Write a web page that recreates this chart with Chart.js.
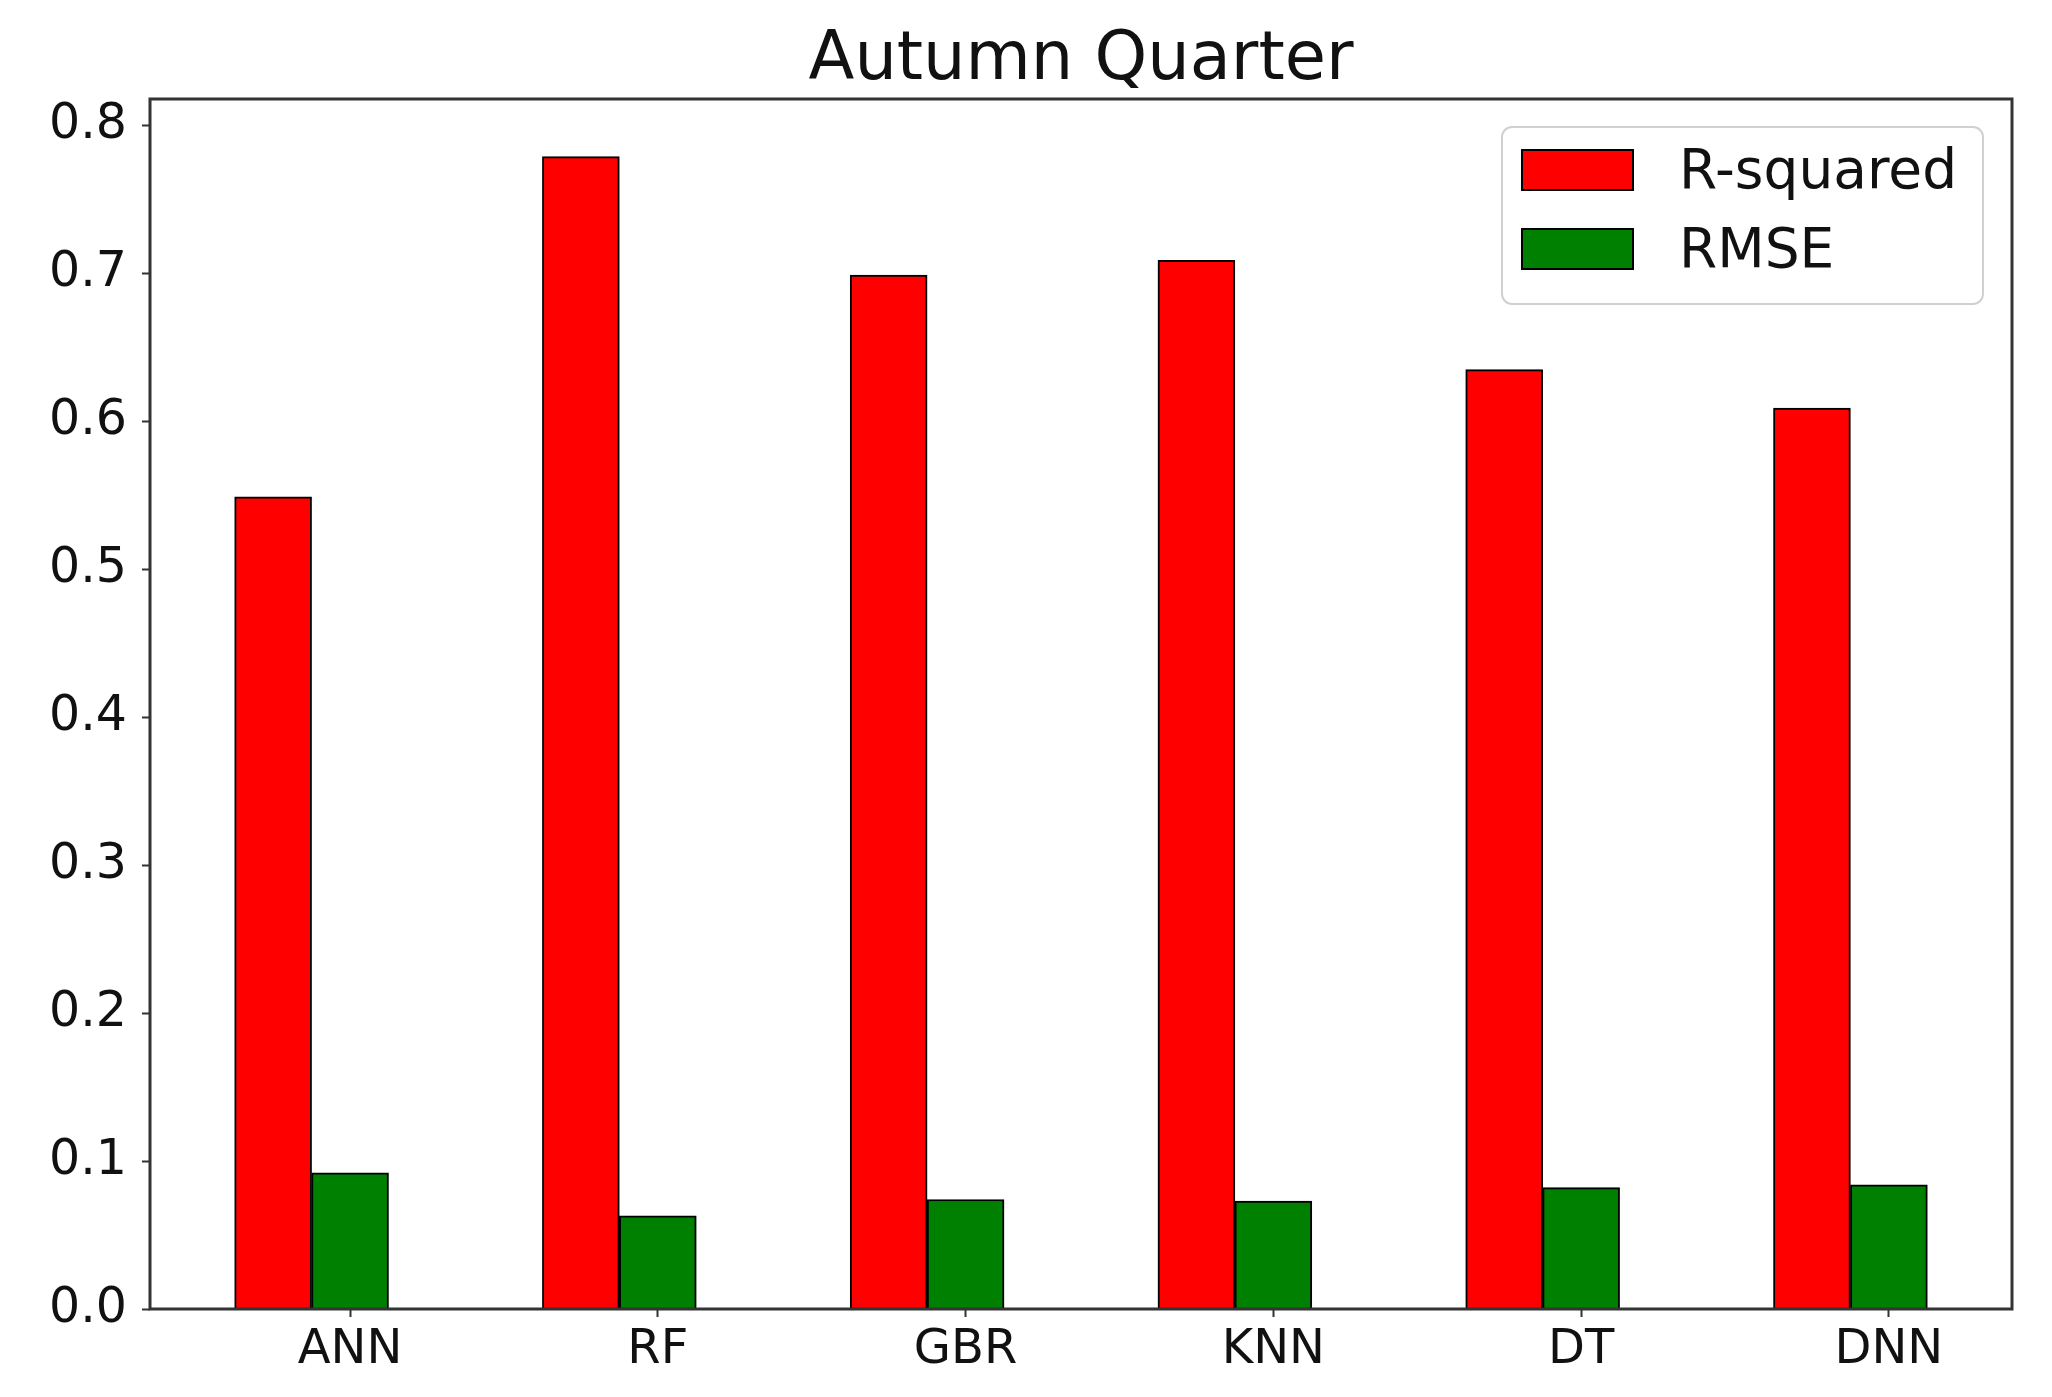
<!DOCTYPE html>
<html>
<head>
<meta charset="utf-8">
<script src="https://cdn.jsdelivr.net/npm/chart.js@4.4.1/dist/chart.umd.min.js"></script>
<style>
  html, body { margin: 0; padding: 0; background: #fff; }
  #wrap { width: 2052px; height: 1397px; position: relative; }
</style>
</head>
<body>
<div id="wrap"><canvas id="autumnChart"></canvas></div>
<script>
// Data
const categories = ['ANN', 'RF', 'GBR', 'KNN', 'DT', 'DNN'];
const rSquared = [0.549, 0.779, 0.699, 0.709, 0.635, 0.609];
const rmse = [0.092, 0.063, 0.074, 0.073, 0.082, 0.084];
const yTicks = [0.0, 0.1, 0.2, 0.3, 0.4, 0.5, 0.6, 0.7, 0.8];

const barWidth = 0.25; // same units as the category spacing
const fontFamily = '"DejaVu Sans", "Liberation Sans", sans-serif';
const colors = {
    red: '#ff0000',
    green: '#008000',
    edge: '#000000',
    spine: '#333333',
    text: '#111111'
};

// Frame around the plot area, drawn over the bars like matplotlib spines
const spinesPlugin = {
    id: 'spines',
    afterDatasetsDraw(chart) {
        const { ctx, chartArea: a } = chart;
        ctx.save();
        ctx.strokeStyle = colors.spine;
        ctx.lineWidth = 3;
        ctx.strokeRect(a.left, a.top, a.right - a.left, a.bottom - a.top);
        ctx.restore();
    }
};

// Legend box inside the upper right corner of the plot
const innerLegendPlugin = {
    id: 'innerLegend',
    afterDraw(chart) {
        const { ctx, chartArea: a } = chart;
        const boxW = 481, boxH = 177;
        const x = a.right - 29 - boxW;
        const y = a.top + 28;
        ctx.save();
        ctx.fillStyle = 'rgba(255,255,255,0.85)';
        ctx.strokeStyle = '#d0d0d0';
        ctx.lineWidth = 2;
        ctx.beginPath();
        ctx.roundRect(x, y, boxW, boxH, 10);
        ctx.fill();
        ctx.stroke();

        ctx.font = '55px ' + fontFamily;
        ctx.textBaseline = 'middle';
        ctx.textAlign = 'left';
        chart.data.datasets.forEach(function(ds, i) {
            const rowY = y + 43 + i * 79;
            ctx.fillStyle = ds.backgroundColor;
            ctx.fillRect(x + 20, rowY - 20, 111, 40);
            ctx.strokeStyle = colors.edge;
            ctx.lineWidth = 2;
            ctx.strokeRect(x + 20, rowY - 20, 111, 40);
            ctx.fillStyle = colors.text;
            ctx.fillText(ds.label, x + 177, rowY + 4);
        });
        ctx.restore();
    }
};

const ctx = document.getElementById('autumnChart');
new Chart(ctx, {
    type: 'bar',
    data: {
        datasets: [
            {
                label: 'R-squared',
                data: categories.map((c, i) => ({ x: i, y: rSquared[i] })),
                backgroundColor: colors.red,
                borderColor: colors.edge,
                borderWidth: 2,
                grouped: false,
                barPercentage: 1,
                categoryPercentage: 1
            },
            {
                label: 'RMSE',
                data: categories.map((c, i) => ({ x: i + barWidth, y: rmse[i] })),
                backgroundColor: colors.green,
                borderColor: colors.edge,
                borderWidth: 2,
                grouped: false,
                barPercentage: 1,
                categoryPercentage: 1
            }
        ]
    },
    options: {
        responsive: true,
        maintainAspectRatio: false,
        animation: false,
        layout: {
            padding: { left: 0, right: 40, top: 0, bottom: 0 }
        },
        plugins: {
            legend: { display: false },
            tooltip: { enabled: false },
            title: {
                display: true,
                fullSize: false,
                text: 'Autumn Quarter',
                color: colors.text,
                font: { family: fontFamily, size: 67, weight: 'normal', lineHeight: 1 },
                padding: { top: 28, bottom: 4 }
            }
        },
        scales: {
            x: {
                type: 'linear',
                min: -0.4,
                max: 5.65,
                offset: false,
                afterBuildTicks: function(scale) {
                    scale.ticks = categories.map((c, i) => ({ value: i + barWidth }));
                },
                afterFit: function(scale) {
                    scale.height = 88;
                },
                grid: {
                    offset: false,
                    drawOnChartArea: false,
                    drawTicks: true,
                    tickLength: 8,
                    tickWidth: 2,
                    tickColor: colors.spine
                },
                border: { display: false },
                ticks: {
                    autoSkip: false,
                    maxRotation: 0,
                    padding: 5,
                    color: colors.text,
                    font: { family: fontFamily, size: 48 },
                    callback: function(value, index) {
                        return categories[index];
                    }
                }
            },
            y: {
                min: 0,
                max: 0.818,
                afterBuildTicks: function(scale) {
                    scale.ticks = yTicks.map(v => ({ value: v }));
                },
                afterFit: function(scale) {
                    scale.width = 150;
                },
                grid: {
                    drawOnChartArea: false,
                    drawTicks: true,
                    tickLength: 8,
                    tickWidth: 2,
                    tickColor: colors.spine
                },
                border: { display: false },
                ticks: {
                    padding: 15,
                    color: colors.text,
                    font: { family: fontFamily, size: 49 },
                    callback: function(value) {
                        return value.toFixed(1);
                    }
                }
            }
        }
    },
    plugins: [spinesPlugin, innerLegendPlugin]
});
</script>
</body>
</html>
